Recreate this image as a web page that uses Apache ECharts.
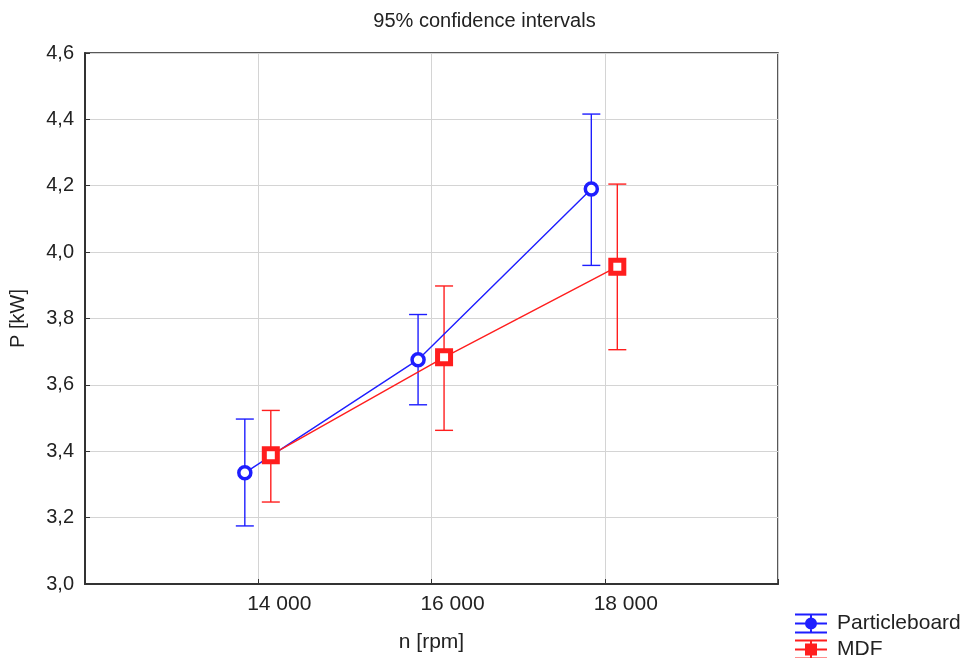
<!DOCTYPE html>
<html>
<head>
<meta charset="utf-8">
<script src="https://cdn.jsdelivr.net/npm/echarts@6/dist/echarts.min.js"></script>
<style>html,body{margin:0;padding:0;background:#fff;}#c{width:969px;height:658px;}</style>
</head>
<body>
<div id="c"></div>
<script>
// ---- data ----
const rpm = [14000, 16000, 18000];
const xTickLabels = ['14 000', '16 000', '18 000'];
const yTicks = [3.0, 3.2, 3.4, 3.6, 3.8, 4.0, 4.2, 4.4, 4.6];
const pbMean = [3.335, 3.676, 4.190];
const pbLow  = [3.175, 3.540, 3.960];
const pbHigh = [3.497, 3.812, 4.416];
const mdfMean = [3.388, 3.683, 3.956];
const mdfLow  = [3.247, 3.463, 3.706];
const mdfHigh = [3.523, 3.898, 4.205];
const seriesNames = ['Particleboard', 'MDF'];

// ---- styling / layout ----
const BLUE = 'rgb(30,30,255)';
const RED = 'rgb(255,30,30)';
const PB_SHIFT = -155, MDF_SHIFT = 145; // horizontal dodge in axis units
const FONT = '"Liberation Sans", Arial, sans-serif';

const pbPts = rpm.map((x, i) => [x + PB_SHIFT, pbMean[i]]);
const mdfPts = rpm.map((x, i) => [x + MDF_SHIFT, mdfMean[i]]);
const pbErr = rpm.map((x, i) => [x + PB_SHIFT, pbLow[i], pbHigh[i]]);
const mdfErr = rpm.map((x, i) => [x + MDF_SHIFT, mdfLow[i], mdfHigh[i]]);

function errRender(color) {
  return function (params, api) {
    const x = api.value(0);
    const lo = api.coord([x, api.value(1)]);
    const hi = api.coord([x, api.value(2)]);
    const hw = 9;
    const st = { stroke: color, lineWidth: 1.4 };
    return {
      type: 'group',
      children: [
        { type: 'line', shape: { x1: lo[0], y1: lo[1], x2: hi[0], y2: hi[1] }, style: st },
        { type: 'line', shape: { x1: lo[0] - hw, y1: lo[1], x2: lo[0] + hw, y2: lo[1] }, style: st },
        { type: 'line', shape: { x1: hi[0] - hw, y1: hi[1], x2: hi[0] + hw, y2: hi[1] }, style: st }
      ]
    };
  };
}

const bars = 'M0,0H32V2H0Z M0,18H32V20H0Z M0,9H32V11H0Z M15,0H17V20H15Z ';
const pbIcon = 'path://' + bars + 'M10,10A6,6,0,1,1,22,10A6,6,0,1,1,10,10Z';
const mdfIcon = 'path://' + bars + 'M10,4H22V16H10Z';

const chart = echarts.init(document.getElementById('c'), null, { renderer: 'canvas' });
chart.setOption({
  animation: false,
  backgroundColor: '#fff',
  title: {
    text: '95% confidence intervals',
    left: 'center',
    top: 6,
    textStyle: { fontFamily: FONT, fontSize: 20, fontWeight: 'normal', color: '#222' }
  },
  grid: {
    left: 83, right: 191, top: 53, bottom: 72,
    show: true, borderColor: '#222', borderWidth: 1.5, backgroundColor: '#fff'
  },
  legend: {
    left: 795, top: 613, orient: 'vertical', padding: 0, height: 100,
    itemWidth: 32, itemHeight: 20, itemGap: 5,
    textStyle: { fontFamily: FONT, fontSize: 21, color: '#222', padding: [0, 0, 0, 5] },
    data: [
      { name: seriesNames[0], icon: pbIcon, itemStyle: { color: BLUE, borderWidth: 0 } },
      { name: seriesNames[1], icon: mdfIcon, itemStyle: { color: RED, borderWidth: 0 } }
    ]
  },
  xAxis: {
    type: 'value', min: 12000, max: 20000, interval: 2000,
    name: 'n [rpm]', nameLocation: 'middle', nameGap: 48,
    nameTextStyle: { fontFamily: FONT, fontSize: 21, color: '#222' },
    axisLine: { show: true, lineStyle: { color: '#333', width: 2 } },
    axisTick: { show: true, inside: true, length: 5, lineStyle: { color: '#333' } },
    splitLine: { show: true, lineStyle: { color: '#d4d4d4', width: 1 } },
    axisLabel: {
      fontFamily: FONT, fontSize: 21, color: '#222', margin: 10,
      padding: [0, 0, 0, 42],
      formatter: function (v) {
        const i = rpm.indexOf(v);
        return i >= 0 ? xTickLabels[i] : '';
      }
    }
  },
  yAxis: {
    type: 'value', min: 3.0, max: 4.6, interval: 0.2,
    name: 'P [kW]', nameLocation: 'middle', nameGap: 57,
    nameTextStyle: { fontFamily: FONT, fontSize: 20, color: '#222' },
    axisLine: { show: true, lineStyle: { color: '#333', width: 2 } },
    axisTick: { show: true, inside: true, length: 5, lineStyle: { color: '#333' } },
    splitLine: { show: true, lineStyle: { color: '#d4d4d4', width: 1 } },
    axisLabel: {
      fontFamily: FONT, fontSize: 20, color: '#222', margin: 11,
      formatter: function (v) {
        const t = yTicks.find(function (k) { return Math.abs(k - v) < 1e-6; });
        return t === undefined ? '' : t.toFixed(1).replace('.', ',');
      }
    }
  },
  series: [
    {
      name: seriesNames[0] + ' CI', type: 'custom', renderItem: errRender(BLUE),
      data: pbErr, encode: { x: 0, y: [1, 2] }, z: 2, silent: true
    },
    {
      name: seriesNames[1] + ' CI', type: 'custom', renderItem: errRender(RED),
      data: mdfErr, encode: { x: 0, y: [1, 2] }, z: 2, silent: true
    },
    {
      name: seriesNames[0], type: 'line', data: pbPts, z: 3,
      symbol: 'circle', symbolSize: 12,
      lineStyle: { color: BLUE, width: 1.4 },
      itemStyle: { color: '#fff', borderColor: BLUE, borderWidth: 3.5 }
    },
    {
      name: seriesNames[1], type: 'line', data: mdfPts, z: 3,
      symbol: 'rect', symbolSize: 13,
      lineStyle: { color: RED, width: 1.4 },
      itemStyle: { color: '#fff', borderColor: RED, borderWidth: 5 }
    }
  ]
});
</script>
</body>
</html>
